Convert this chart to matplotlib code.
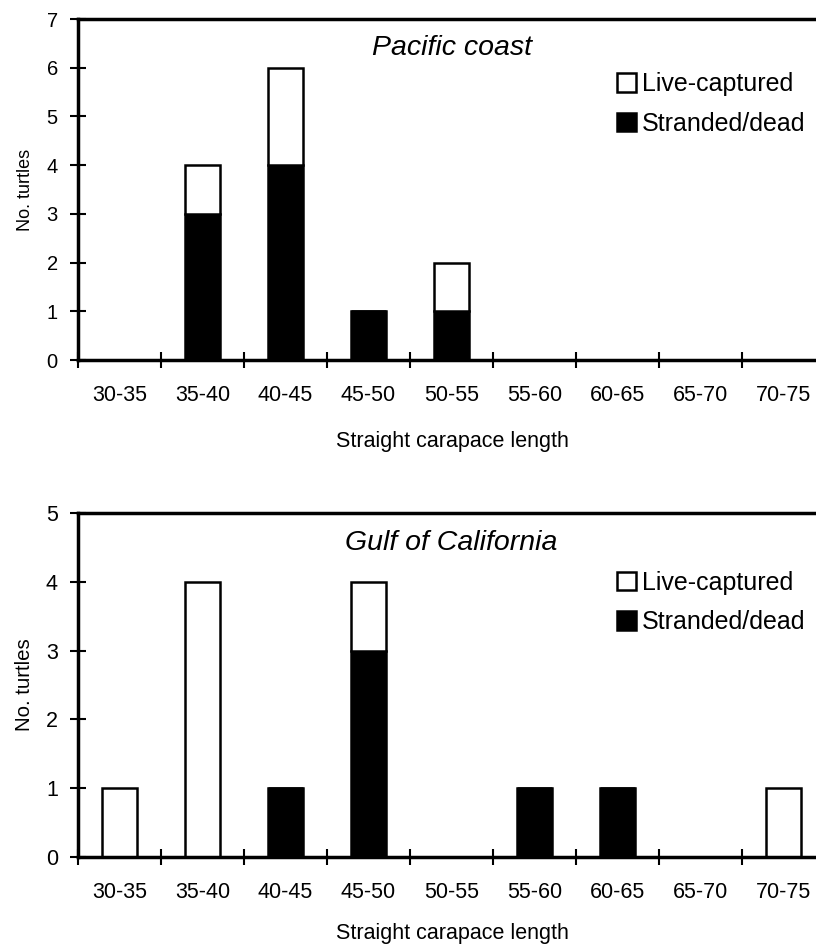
import matplotlib
matplotlib.use("Agg")
import matplotlib.pyplot as plt
import numpy as np

plt.rcParams['font.family'] = ['Liberation Sans', 'DejaVu Sans']

# classes de comprimento
categorias = ["30-35", "35-40", "40-45", "45-50", "50-55",
              "55-60", "60-65", "65-70", "70-75"]

# Pacific coast
pac_encalhadas = [0, 3, 4, 1, 1, 0, 0, 0, 0]
pac_vivas = [0, 1, 2, 0, 1, 0, 0, 0, 0]

# Gulf of California
gol_encalhadas = [0, 0, 1, 3, 0, 1, 1, 0, 0]
gol_vivas = [1, 4, 0, 1, 0, 0, 0, 0, 1]

fig = plt.figure(figsize=(8.16, 9.44), dpi=100)
ax1 = fig.add_axes([0.0956, 0.6186, 0.9044, 0.3612])
ax2 = fig.add_axes([0.0956, 0.0922, 0.9044, 0.3644])

paineis = [
    (ax1, pac_encalhadas, pac_vivas, "Pacific coast", 7, 14.5, 13, 0.751, 0.915, -0.208),
    (ax2, gol_encalhadas, gol_vivas, "Gulf of California", 5, 15.5, 14.7, 0.740, 0.912, -0.192),
]

x = np.arange(len(categorias))
largura = 0.43

for ax, encalhadas, vivas, titulo, ymax, fs_yt, fs_yl, leg_y, tit_y, xl_y in paineis:
    b_enc = ax.bar(x, encalhadas, largura, color="black", edgecolor="black", linewidth=1.8)
    b_viv = ax.bar(x, vivas, largura, bottom=encalhadas, color="white",
                   edgecolor="black", linewidth=1.8)

    ax.set_xlim(-0.5, 8.39)
    ax.set_ylim(0, ymax)

    # ticks nas divisas entre classes, rótulos no centro
    ax.set_xticks(np.arange(len(categorias)) - 0.5)
    ax.set_xticklabels([])
    ax.set_xticks(x, minor=True)
    ax.set_xticklabels(categorias, minor=True, fontsize=15.5)
    ax.tick_params(axis="x", which="minor", length=0, pad=18)
    ax.tick_params(axis="x", which="major", direction="inout", length=11.5, width=1.5)
    ax.set_yticks(range(ymax + 1))
    ax.tick_params(axis="y", direction="inout", length=11, width=1.5,
                   labelsize=fs_yt, pad=9)

    for lado in ["left", "bottom", "top"]:
        ax.spines[lado].set_linewidth(2.5)
    ax.spines["right"].set_visible(False)

    ax.set_ylabel("No. turtles", fontsize=fs_yl)
    ax.yaxis.set_label_coords(-0.06, 0.5)
    ax.set_xlabel("Straight carapace length", fontsize=15.5)
    ax.xaxis.set_label_coords(0.508, xl_y)

    ax.text(4, ymax * tit_y, titulo, ha="center", va="center",
            fontsize=20.5, style="italic")

    ax.legend([b_viv, b_enc], ["Live-captured", "Stranded/dead"],
              loc="center left", bbox_to_anchor=(0.730, leg_y),
              frameon=False, fontsize=18, handlelength=0.76, handleheight=0.76,
              handletextpad=0.25, labelspacing=0.62, borderpad=0, borderaxespad=0)

plt.savefig("out.png", dpi=100)
